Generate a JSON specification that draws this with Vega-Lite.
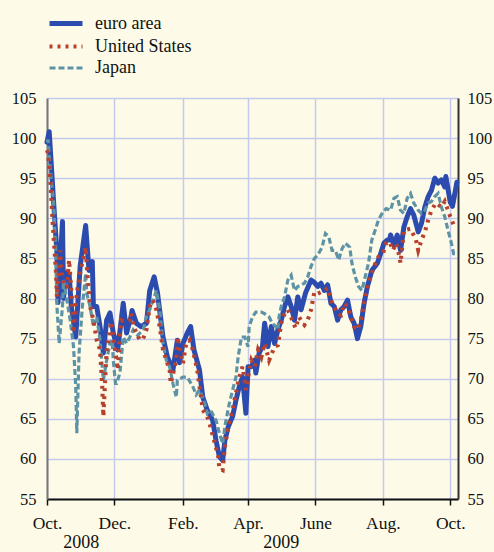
{
  "$schema": "https://vega.github.io/schema/vega-lite/v6.json",
  "width": 411,
  "height": 401,
  "autosize": {"type": "none"},
  "padding": {"left": 47, "top": 98, "right": 36, "bottom": 53},
  "background": "#FDFBE7",
  "config": {
    "view": {"stroke": null},
    "font": "Liberation Serif",
    "axis": {"labelFont": "Liberation Serif", "labelFontSize": 16, "labelColor": "#111111", "gridColor": "#C5C9EE", "gridWidth": 1.5, "gridOpacity": 1},
    "legend": {"orient": "none", "legendX": 6.5, "legendY": -87, "symbolType": "M-1.65,0H1.65", "symbolSize": 400, "labelFont": "Liberation Serif", "labelFontSize": 18, "labelColor": "#111111", "labelOffset": 16.5, "rowPadding": -2.5, "padding": 0}
  },
  "datasets": {
    "main": [
      {"d": "2008-10-01", "s": "euro area", "v": 99.5},
      {"d": "2008-10-03", "s": "euro area", "v": 100.8},
      {"d": "2008-10-07", "s": "euro area", "v": 92.0},
      {"d": "2008-10-10", "s": "euro area", "v": 85.7},
      {"d": "2008-10-11", "s": "euro area", "v": 79.5},
      {"d": "2008-10-15", "s": "euro area", "v": 89.6},
      {"d": "2008-10-16", "s": "euro area", "v": 80.0},
      {"d": "2008-10-17", "s": "euro area", "v": 82.5},
      {"d": "2008-10-19", "s": "euro area", "v": 83.2},
      {"d": "2008-10-21", "s": "euro area", "v": 83.0},
      {"d": "2008-10-23", "s": "euro area", "v": 79.0},
      {"d": "2008-10-27", "s": "euro area", "v": 75.2},
      {"d": "2008-10-31", "s": "euro area", "v": 84.0},
      {"d": "2008-11-05", "s": "euro area", "v": 89.1},
      {"d": "2008-11-08", "s": "euro area", "v": 83.5},
      {"d": "2008-11-11", "s": "euro area", "v": 84.6},
      {"d": "2008-11-12", "s": "euro area", "v": 79.0},
      {"d": "2008-11-15", "s": "euro area", "v": 79.0},
      {"d": "2008-11-18", "s": "euro area", "v": 76.5},
      {"d": "2008-11-21", "s": "euro area", "v": 73.2},
      {"d": "2008-11-24", "s": "euro area", "v": 77.3},
      {"d": "2008-11-27", "s": "euro area", "v": 78.2},
      {"d": "2008-11-30", "s": "euro area", "v": 75.7},
      {"d": "2008-12-04", "s": "euro area", "v": 73.6},
      {"d": "2008-12-09", "s": "euro area", "v": 79.4},
      {"d": "2008-12-12", "s": "euro area", "v": 75.7},
      {"d": "2008-12-16", "s": "euro area", "v": 77.7},
      {"d": "2008-12-17", "s": "euro area", "v": 78.5},
      {"d": "2008-12-21", "s": "euro area", "v": 76.9},
      {"d": "2008-12-25", "s": "euro area", "v": 76.5},
      {"d": "2008-12-30", "s": "euro area", "v": 76.9},
      {"d": "2009-01-02", "s": "euro area", "v": 81.0},
      {"d": "2009-01-06", "s": "euro area", "v": 82.7},
      {"d": "2009-01-09", "s": "euro area", "v": 80.7},
      {"d": "2009-01-14", "s": "euro area", "v": 75.2},
      {"d": "2009-01-18", "s": "euro area", "v": 72.7},
      {"d": "2009-01-23", "s": "euro area", "v": 71.1},
      {"d": "2009-01-27", "s": "euro area", "v": 74.8},
      {"d": "2009-01-29", "s": "euro area", "v": 72.0},
      {"d": "2009-02-01", "s": "euro area", "v": 74.4},
      {"d": "2009-02-05", "s": "euro area", "v": 75.7},
      {"d": "2009-02-08", "s": "euro area", "v": 76.5},
      {"d": "2009-02-11", "s": "euro area", "v": 73.6},
      {"d": "2009-02-16", "s": "euro area", "v": 71.1},
      {"d": "2009-02-19", "s": "euro area", "v": 67.7},
      {"d": "2009-02-23", "s": "euro area", "v": 66.1},
      {"d": "2009-02-28", "s": "euro area", "v": 64.8},
      {"d": "2009-03-03", "s": "euro area", "v": 62.3},
      {"d": "2009-03-06", "s": "euro area", "v": 60.3},
      {"d": "2009-03-09", "s": "euro area", "v": 59.8},
      {"d": "2009-03-11", "s": "euro area", "v": 62.3},
      {"d": "2009-03-14", "s": "euro area", "v": 64.0},
      {"d": "2009-03-18", "s": "euro area", "v": 65.3},
      {"d": "2009-03-21", "s": "euro area", "v": 67.3},
      {"d": "2009-03-24", "s": "euro area", "v": 69.0},
      {"d": "2009-03-27", "s": "euro area", "v": 70.2},
      {"d": "2009-03-30", "s": "euro area", "v": 65.7},
      {"d": "2009-04-01", "s": "euro area", "v": 71.5},
      {"d": "2009-04-04", "s": "euro area", "v": 71.5},
      {"d": "2009-04-07", "s": "euro area", "v": 72.3},
      {"d": "2009-04-08", "s": "euro area", "v": 70.7},
      {"d": "2009-04-11", "s": "euro area", "v": 73.2},
      {"d": "2009-04-14", "s": "euro area", "v": 74.0},
      {"d": "2009-04-16", "s": "euro area", "v": 76.9},
      {"d": "2009-04-19", "s": "euro area", "v": 74.0},
      {"d": "2009-04-22", "s": "euro area", "v": 76.5},
      {"d": "2009-04-25", "s": "euro area", "v": 74.4},
      {"d": "2009-04-28", "s": "euro area", "v": 76.1},
      {"d": "2009-05-01", "s": "euro area", "v": 77.3},
      {"d": "2009-05-04", "s": "euro area", "v": 79.0},
      {"d": "2009-05-07", "s": "euro area", "v": 80.2},
      {"d": "2009-05-10", "s": "euro area", "v": 79.0},
      {"d": "2009-05-13", "s": "euro area", "v": 77.3},
      {"d": "2009-05-16", "s": "euro area", "v": 80.2},
      {"d": "2009-05-19", "s": "euro area", "v": 78.6},
      {"d": "2009-05-23", "s": "euro area", "v": 80.7},
      {"d": "2009-05-28", "s": "euro area", "v": 82.3},
      {"d": "2009-05-31", "s": "euro area", "v": 82.0},
      {"d": "2009-06-03", "s": "euro area", "v": 81.5},
      {"d": "2009-06-06", "s": "euro area", "v": 81.9},
      {"d": "2009-06-09", "s": "euro area", "v": 81.0},
      {"d": "2009-06-12", "s": "euro area", "v": 81.7},
      {"d": "2009-06-15", "s": "euro area", "v": 79.4},
      {"d": "2009-06-18", "s": "euro area", "v": 79.0},
      {"d": "2009-06-21", "s": "euro area", "v": 77.3},
      {"d": "2009-06-24", "s": "euro area", "v": 78.6},
      {"d": "2009-06-27", "s": "euro area", "v": 79.0},
      {"d": "2009-06-30", "s": "euro area", "v": 79.8},
      {"d": "2009-07-03", "s": "euro area", "v": 77.7},
      {"d": "2009-07-06", "s": "euro area", "v": 76.9},
      {"d": "2009-07-09", "s": "euro area", "v": 75.0},
      {"d": "2009-07-12", "s": "euro area", "v": 76.5},
      {"d": "2009-07-15", "s": "euro area", "v": 79.4},
      {"d": "2009-07-18", "s": "euro area", "v": 81.5},
      {"d": "2009-07-22", "s": "euro area", "v": 83.5},
      {"d": "2009-07-27", "s": "euro area", "v": 84.4},
      {"d": "2009-07-30", "s": "euro area", "v": 85.6},
      {"d": "2009-08-02", "s": "euro area", "v": 86.9},
      {"d": "2009-08-05", "s": "euro area", "v": 87.3},
      {"d": "2009-08-07", "s": "euro area", "v": 87.3},
      {"d": "2009-08-08", "s": "euro area", "v": 87.9},
      {"d": "2009-08-11", "s": "euro area", "v": 86.7},
      {"d": "2009-08-14", "s": "euro area", "v": 87.9},
      {"d": "2009-08-17", "s": "euro area", "v": 86.0},
      {"d": "2009-08-20", "s": "euro area", "v": 88.9},
      {"d": "2009-08-23", "s": "euro area", "v": 90.2},
      {"d": "2009-08-26", "s": "euro area", "v": 91.2},
      {"d": "2009-08-29", "s": "euro area", "v": 90.4},
      {"d": "2009-09-02", "s": "euro area", "v": 88.3},
      {"d": "2009-09-05", "s": "euro area", "v": 89.4},
      {"d": "2009-09-08", "s": "euro area", "v": 91.4},
      {"d": "2009-09-11", "s": "euro area", "v": 92.7},
      {"d": "2009-09-14", "s": "euro area", "v": 93.5},
      {"d": "2009-09-17", "s": "euro area", "v": 95.0},
      {"d": "2009-09-20", "s": "euro area", "v": 94.4},
      {"d": "2009-09-23", "s": "euro area", "v": 94.8},
      {"d": "2009-09-26", "s": "euro area", "v": 93.9},
      {"d": "2009-09-27", "s": "euro area", "v": 95.2},
      {"d": "2009-10-01", "s": "euro area", "v": 92.0},
      {"d": "2009-10-03", "s": "euro area", "v": 91.5},
      {"d": "2009-10-05", "s": "euro area", "v": 93.0},
      {"d": "2009-10-07", "s": "euro area", "v": 94.5},

      {"d": "2008-10-01", "s": "United States", "v": 98.5},
      {"d": "2008-10-02", "s": "United States", "v": 98.1},
      {"d": "2008-10-04", "s": "United States", "v": 94.8},
      {"d": "2008-10-06", "s": "United States", "v": 89.8},
      {"d": "2008-10-09", "s": "United States", "v": 83.5},
      {"d": "2008-10-10", "s": "United States", "v": 80.2},
      {"d": "2008-10-13", "s": "United States", "v": 86.0},
      {"d": "2008-10-14", "s": "United States", "v": 83.5},
      {"d": "2008-10-16", "s": "United States", "v": 81.5},
      {"d": "2008-10-19", "s": "United States", "v": 81.5},
      {"d": "2008-10-21", "s": "United States", "v": 84.8},
      {"d": "2008-10-24", "s": "United States", "v": 79.0},
      {"d": "2008-10-25", "s": "United States", "v": 75.7},
      {"d": "2008-10-28", "s": "United States", "v": 80.7},
      {"d": "2008-10-31", "s": "United States", "v": 83.2},
      {"d": "2008-11-05", "s": "United States", "v": 86.4},
      {"d": "2008-11-06", "s": "United States", "v": 84.0},
      {"d": "2008-11-09", "s": "United States", "v": 79.0},
      {"d": "2008-11-12", "s": "United States", "v": 77.3},
      {"d": "2008-11-15", "s": "United States", "v": 74.8},
      {"d": "2008-11-18", "s": "United States", "v": 73.6},
      {"d": "2008-11-20", "s": "United States", "v": 69.0},
      {"d": "2008-11-21", "s": "United States", "v": 65.3},
      {"d": "2008-11-24", "s": "United States", "v": 73.6},
      {"d": "2008-11-27", "s": "United States", "v": 75.7},
      {"d": "2008-11-28", "s": "United States", "v": 77.1},
      {"d": "2008-11-30", "s": "United States", "v": 75.0},
      {"d": "2008-12-03", "s": "United States", "v": 72.3},
      {"d": "2008-12-04", "s": "United States", "v": 71.1},
      {"d": "2008-12-07", "s": "United States", "v": 77.3},
      {"d": "2008-12-10", "s": "United States", "v": 77.1},
      {"d": "2008-12-15", "s": "United States", "v": 77.3},
      {"d": "2008-12-16", "s": "United States", "v": 78.1},
      {"d": "2008-12-19", "s": "United States", "v": 76.3},
      {"d": "2008-12-24", "s": "United States", "v": 74.8},
      {"d": "2008-12-27", "s": "United States", "v": 75.0},
      {"d": "2008-12-30", "s": "United States", "v": 76.1},
      {"d": "2009-01-02", "s": "United States", "v": 79.0},
      {"d": "2009-01-05", "s": "United States", "v": 79.8},
      {"d": "2009-01-08", "s": "United States", "v": 78.6},
      {"d": "2009-01-11", "s": "United States", "v": 76.5},
      {"d": "2009-01-14", "s": "United States", "v": 73.6},
      {"d": "2009-01-17", "s": "United States", "v": 72.3},
      {"d": "2009-01-20", "s": "United States", "v": 71.1},
      {"d": "2009-01-21", "s": "United States", "v": 69.4},
      {"d": "2009-01-26", "s": "United States", "v": 72.3},
      {"d": "2009-01-27", "s": "United States", "v": 75.2},
      {"d": "2009-01-29", "s": "United States", "v": 74.0},
      {"d": "2009-02-01", "s": "United States", "v": 71.9},
      {"d": "2009-02-04", "s": "United States", "v": 74.4},
      {"d": "2009-02-07", "s": "United States", "v": 74.8},
      {"d": "2009-02-10", "s": "United States", "v": 73.6},
      {"d": "2009-02-14", "s": "United States", "v": 71.1},
      {"d": "2009-02-19", "s": "United States", "v": 66.1},
      {"d": "2009-02-23", "s": "United States", "v": 65.3},
      {"d": "2009-02-26", "s": "United States", "v": 64.0},
      {"d": "2009-03-02", "s": "United States", "v": 61.9},
      {"d": "2009-03-05", "s": "United States", "v": 60.3},
      {"d": "2009-03-06", "s": "United States", "v": 58.8},
      {"d": "2009-03-09", "s": "United States", "v": 58.6},
      {"d": "2009-03-11", "s": "United States", "v": 61.5},
      {"d": "2009-03-14", "s": "United States", "v": 64.0},
      {"d": "2009-03-18", "s": "United States", "v": 66.1},
      {"d": "2009-03-21", "s": "United States", "v": 68.2},
      {"d": "2009-03-24", "s": "United States", "v": 70.2},
      {"d": "2009-03-27", "s": "United States", "v": 71.5},
      {"d": "2009-03-30", "s": "United States", "v": 68.6},
      {"d": "2009-04-01", "s": "United States", "v": 70.2},
      {"d": "2009-04-04", "s": "United States", "v": 72.3},
      {"d": "2009-04-07", "s": "United States", "v": 71.5},
      {"d": "2009-04-10", "s": "United States", "v": 73.6},
      {"d": "2009-04-13", "s": "United States", "v": 72.7},
      {"d": "2009-04-16", "s": "United States", "v": 74.4},
      {"d": "2009-04-20", "s": "United States", "v": 72.3},
      {"d": "2009-04-25", "s": "United States", "v": 74.0},
      {"d": "2009-04-28", "s": "United States", "v": 74.2},
      {"d": "2009-05-01", "s": "United States", "v": 76.9},
      {"d": "2009-05-04", "s": "United States", "v": 78.1},
      {"d": "2009-05-07", "s": "United States", "v": 78.6},
      {"d": "2009-05-11", "s": "United States", "v": 77.3},
      {"d": "2009-05-14", "s": "United States", "v": 76.3},
      {"d": "2009-05-17", "s": "United States", "v": 77.7},
      {"d": "2009-05-22", "s": "United States", "v": 76.7},
      {"d": "2009-05-25", "s": "United States", "v": 77.3},
      {"d": "2009-05-28", "s": "United States", "v": 78.6},
      {"d": "2009-05-31", "s": "United States", "v": 80.8},
      {"d": "2009-06-03", "s": "United States", "v": 80.6},
      {"d": "2009-06-09", "s": "United States", "v": 81.0},
      {"d": "2009-06-12", "s": "United States", "v": 81.3},
      {"d": "2009-06-15", "s": "United States", "v": 79.8},
      {"d": "2009-06-18", "s": "United States", "v": 79.0},
      {"d": "2009-06-21", "s": "United States", "v": 78.1},
      {"d": "2009-06-24", "s": "United States", "v": 77.9},
      {"d": "2009-06-27", "s": "United States", "v": 79.4},
      {"d": "2009-06-30", "s": "United States", "v": 79.0},
      {"d": "2009-07-03", "s": "United States", "v": 77.7},
      {"d": "2009-07-06", "s": "United States", "v": 76.5},
      {"d": "2009-07-09", "s": "United States", "v": 76.1},
      {"d": "2009-07-12", "s": "United States", "v": 77.3},
      {"d": "2009-07-15", "s": "United States", "v": 79.4},
      {"d": "2009-07-19", "s": "United States", "v": 81.9},
      {"d": "2009-07-24", "s": "United States", "v": 84.0},
      {"d": "2009-07-28", "s": "United States", "v": 85.2},
      {"d": "2009-08-01", "s": "United States", "v": 85.6},
      {"d": "2009-08-04", "s": "United States", "v": 86.9},
      {"d": "2009-08-07", "s": "United States", "v": 87.1},
      {"d": "2009-08-10", "s": "United States", "v": 86.0},
      {"d": "2009-08-13", "s": "United States", "v": 86.9},
      {"d": "2009-08-16", "s": "United States", "v": 85.2},
      {"d": "2009-08-17", "s": "United States", "v": 84.4},
      {"d": "2009-08-20", "s": "United States", "v": 88.5},
      {"d": "2009-08-26", "s": "United States", "v": 88.7},
      {"d": "2009-08-31", "s": "United States", "v": 87.3},
      {"d": "2009-09-02", "s": "United States", "v": 86.0},
      {"d": "2009-09-05", "s": "United States", "v": 87.3},
      {"d": "2009-09-08", "s": "United States", "v": 88.3},
      {"d": "2009-09-11", "s": "United States", "v": 89.8},
      {"d": "2009-09-14", "s": "United States", "v": 91.0},
      {"d": "2009-09-18", "s": "United States", "v": 91.9},
      {"d": "2009-09-23", "s": "United States", "v": 91.4},
      {"d": "2009-09-26", "s": "United States", "v": 92.1},
      {"d": "2009-09-29", "s": "United States", "v": 91.0},
      {"d": "2009-10-01", "s": "United States", "v": 90.2},
      {"d": "2009-10-04", "s": "United States", "v": 89.2},
      {"d": "2009-10-07", "s": "United States", "v": 89.5},

      {"d": "2008-10-01", "s": "Japan", "v": 99.5},
      {"d": "2008-10-02", "s": "Japan", "v": 99.8},
      {"d": "2008-10-04", "s": "Japan", "v": 96.0},
      {"d": "2008-10-07", "s": "Japan", "v": 91.9},
      {"d": "2008-10-09", "s": "Japan", "v": 85.6},
      {"d": "2008-10-10", "s": "Japan", "v": 79.0},
      {"d": "2008-10-12", "s": "Japan", "v": 74.4},
      {"d": "2008-10-15", "s": "Japan", "v": 79.0},
      {"d": "2008-10-16", "s": "Japan", "v": 82.3},
      {"d": "2008-10-19", "s": "Japan", "v": 79.8},
      {"d": "2008-10-22", "s": "Japan", "v": 77.3},
      {"d": "2008-10-25", "s": "Japan", "v": 74.0},
      {"d": "2008-10-27", "s": "Japan", "v": 69.0},
      {"d": "2008-10-28", "s": "Japan", "v": 63.2},
      {"d": "2008-10-30", "s": "Japan", "v": 73.2},
      {"d": "2008-11-02", "s": "Japan", "v": 79.0},
      {"d": "2008-11-05", "s": "Japan", "v": 83.1},
      {"d": "2008-11-06", "s": "Japan", "v": 80.6},
      {"d": "2008-11-09", "s": "Japan", "v": 79.0},
      {"d": "2008-11-12", "s": "Japan", "v": 76.5},
      {"d": "2008-11-15", "s": "Japan", "v": 77.7},
      {"d": "2008-11-18", "s": "Japan", "v": 74.8},
      {"d": "2008-11-21", "s": "Japan", "v": 69.8},
      {"d": "2008-11-24", "s": "Japan", "v": 72.3},
      {"d": "2008-11-27", "s": "Japan", "v": 74.4},
      {"d": "2008-11-29", "s": "Japan", "v": 74.8},
      {"d": "2008-11-30", "s": "Japan", "v": 72.3},
      {"d": "2008-12-02", "s": "Japan", "v": 69.4},
      {"d": "2008-12-03", "s": "Japan", "v": 69.4},
      {"d": "2008-12-06", "s": "Japan", "v": 70.7},
      {"d": "2008-12-09", "s": "Japan", "v": 75.2},
      {"d": "2008-12-12", "s": "Japan", "v": 74.4},
      {"d": "2008-12-15", "s": "Japan", "v": 75.2},
      {"d": "2008-12-18", "s": "Japan", "v": 76.1},
      {"d": "2008-12-22", "s": "Japan", "v": 75.4},
      {"d": "2008-12-27", "s": "Japan", "v": 76.1},
      {"d": "2008-12-30", "s": "Japan", "v": 77.7},
      {"d": "2009-01-02", "s": "Japan", "v": 78.6},
      {"d": "2009-01-05", "s": "Japan", "v": 79.8},
      {"d": "2009-01-08", "s": "Japan", "v": 81.0},
      {"d": "2009-01-11", "s": "Japan", "v": 78.6},
      {"d": "2009-01-14", "s": "Japan", "v": 74.4},
      {"d": "2009-01-17", "s": "Japan", "v": 72.3},
      {"d": "2009-01-20", "s": "Japan", "v": 71.5},
      {"d": "2009-01-23", "s": "Japan", "v": 69.4},
      {"d": "2009-01-26", "s": "Japan", "v": 67.7},
      {"d": "2009-01-27", "s": "Japan", "v": 69.8},
      {"d": "2009-02-01", "s": "Japan", "v": 70.2},
      {"d": "2009-02-05", "s": "Japan", "v": 70.2},
      {"d": "2009-02-10", "s": "Japan", "v": 69.0},
      {"d": "2009-02-13", "s": "Japan", "v": 68.0},
      {"d": "2009-02-16", "s": "Japan", "v": 68.6},
      {"d": "2009-02-20", "s": "Japan", "v": 67.3},
      {"d": "2009-02-23", "s": "Japan", "v": 65.7},
      {"d": "2009-02-26", "s": "Japan", "v": 66.1},
      {"d": "2009-03-03", "s": "Japan", "v": 64.8},
      {"d": "2009-03-06", "s": "Japan", "v": 63.2},
      {"d": "2009-03-09", "s": "Japan", "v": 61.9},
      {"d": "2009-03-11", "s": "Japan", "v": 64.0},
      {"d": "2009-03-12", "s": "Japan", "v": 64.8},
      {"d": "2009-03-15", "s": "Japan", "v": 66.9},
      {"d": "2009-03-18", "s": "Japan", "v": 68.6},
      {"d": "2009-03-21", "s": "Japan", "v": 70.2},
      {"d": "2009-03-23", "s": "Japan", "v": 72.7},
      {"d": "2009-03-26", "s": "Japan", "v": 75.2},
      {"d": "2009-03-29", "s": "Japan", "v": 75.2},
      {"d": "2009-04-01", "s": "Japan", "v": 74.0},
      {"d": "2009-04-02", "s": "Japan", "v": 76.5},
      {"d": "2009-04-05", "s": "Japan", "v": 77.7},
      {"d": "2009-04-08", "s": "Japan", "v": 78.3},
      {"d": "2009-04-13", "s": "Japan", "v": 78.3},
      {"d": "2009-04-16", "s": "Japan", "v": 78.1},
      {"d": "2009-04-20", "s": "Japan", "v": 77.7},
      {"d": "2009-04-23", "s": "Japan", "v": 76.9},
      {"d": "2009-04-26", "s": "Japan", "v": 76.5},
      {"d": "2009-04-28", "s": "Japan", "v": 76.1},
      {"d": "2009-04-29", "s": "Japan", "v": 77.7},
      {"d": "2009-05-01", "s": "Japan", "v": 79.0},
      {"d": "2009-05-04", "s": "Japan", "v": 80.2},
      {"d": "2009-05-07", "s": "Japan", "v": 82.3},
      {"d": "2009-05-10", "s": "Japan", "v": 82.9},
      {"d": "2009-05-13", "s": "Japan", "v": 81.0},
      {"d": "2009-05-16", "s": "Japan", "v": 81.5},
      {"d": "2009-05-19", "s": "Japan", "v": 81.7},
      {"d": "2009-05-22", "s": "Japan", "v": 81.9},
      {"d": "2009-05-25", "s": "Japan", "v": 82.7},
      {"d": "2009-05-28", "s": "Japan", "v": 84.0},
      {"d": "2009-05-31", "s": "Japan", "v": 85.0},
      {"d": "2009-06-03", "s": "Japan", "v": 85.4},
      {"d": "2009-06-07", "s": "Japan", "v": 86.4},
      {"d": "2009-06-10", "s": "Japan", "v": 88.1},
      {"d": "2009-06-13", "s": "Japan", "v": 87.7},
      {"d": "2009-06-16", "s": "Japan", "v": 86.0},
      {"d": "2009-06-19", "s": "Japan", "v": 86.0},
      {"d": "2009-06-22", "s": "Japan", "v": 84.8},
      {"d": "2009-06-25", "s": "Japan", "v": 86.2},
      {"d": "2009-06-28", "s": "Japan", "v": 86.9},
      {"d": "2009-07-02", "s": "Japan", "v": 86.4},
      {"d": "2009-07-04", "s": "Japan", "v": 84.4},
      {"d": "2009-07-07", "s": "Japan", "v": 82.7},
      {"d": "2009-07-10", "s": "Japan", "v": 81.5},
      {"d": "2009-07-13", "s": "Japan", "v": 81.0},
      {"d": "2009-07-16", "s": "Japan", "v": 82.7},
      {"d": "2009-07-19", "s": "Japan", "v": 84.4},
      {"d": "2009-07-22", "s": "Japan", "v": 87.3},
      {"d": "2009-07-25", "s": "Japan", "v": 88.5},
      {"d": "2009-07-28", "s": "Japan", "v": 89.8},
      {"d": "2009-08-01", "s": "Japan", "v": 90.8},
      {"d": "2009-08-04", "s": "Japan", "v": 91.2},
      {"d": "2009-08-08", "s": "Japan", "v": 91.0},
      {"d": "2009-08-11", "s": "Japan", "v": 92.5},
      {"d": "2009-08-14", "s": "Japan", "v": 92.7},
      {"d": "2009-08-17", "s": "Japan", "v": 91.0},
      {"d": "2009-08-20", "s": "Japan", "v": 90.6},
      {"d": "2009-08-23", "s": "Japan", "v": 92.5},
      {"d": "2009-08-26", "s": "Japan", "v": 93.1},
      {"d": "2009-08-29", "s": "Japan", "v": 91.9},
      {"d": "2009-09-02", "s": "Japan", "v": 91.0},
      {"d": "2009-09-05", "s": "Japan", "v": 90.6},
      {"d": "2009-09-08", "s": "Japan", "v": 91.0},
      {"d": "2009-09-11", "s": "Japan", "v": 91.9},
      {"d": "2009-09-14", "s": "Japan", "v": 92.1},
      {"d": "2009-09-17", "s": "Japan", "v": 92.7},
      {"d": "2009-09-20", "s": "Japan", "v": 93.1},
      {"d": "2009-09-23", "s": "Japan", "v": 91.4},
      {"d": "2009-09-26", "s": "Japan", "v": 90.2},
      {"d": "2009-09-29", "s": "Japan", "v": 88.5},
      {"d": "2009-10-02", "s": "Japan", "v": 86.9},
      {"d": "2009-10-04", "s": "Japan", "v": 85.6},
      {"d": "2009-10-07", "s": "Japan", "v": 85.6}
    ],
    "years": [
      {"d": "2008-11-01", "t": "2008"},
      {"d": "2009-05-01", "t": "2009"}
    ]
  },
  "layer": [
    {
      "data": {"name": "main"},
      "transform": [{"filter": "datum.s === 'euro area'"}],
      "mark": {"type": "line", "strokeCap": "round", "strokeJoin": "round"},
      "encoding": {
        "x": {"field": "d", "type": "temporal", "title": null,
          "scale": {"type": "utc", "domain": [{"year": 2008, "month": 10, "date": 1, "utc": true}, {"year": 2009, "month": 10, "date": 8, "utc": true}]},
          "axis": {
            "values": [
              {"year": 2008, "month": 10, "date": 1, "utc": true},
              {"year": 2008, "month": 12, "date": 1, "utc": true},
              {"year": 2009, "month": 2, "date": 1, "utc": true},
              {"year": 2009, "month": 4, "date": 1, "utc": true},
              {"year": 2009, "month": 6, "date": 1, "utc": true},
              {"year": 2009, "month": 8, "date": 1, "utc": true},
              {"year": 2009, "month": 10, "date": 1, "utc": true}
            ],
            "labelExpr": "['Jan.','Feb.','Mar.','Apr.','May','June','July','Aug.','Sep.','Oct.','Nov.','Dec.'][utcmonth(datum.value)]",
            "labelFont": "Liberation Serif", "labelFontSize": 17.5, "labelColor": "#111111",
            "grid": true, "domainColor": "#111111", "domainWidth": 2, "tickColor": "#111111", "tickWidth": 1.5, "tickSize": 6,
            "labelPadding": 9, "labelFlush": false, "labelOverlap": false
          }
        },
        "y": {"field": "v", "type": "quantitative", "title": null,
          "scale": {"domain": [55, 105], "nice": false, "zero": false},
          "axis": {"values": [55, 60, 65, 70, 75, 80, 85, 90, 95, 100, 105], "labelFont": "Liberation Serif", "labelFontSize": 16.5, "labelColor": "#111111", "grid": true, "ticks": false, "domainColor": "#777777", "domainWidth": 2, "labelPadding": 11, "labelOverlap": false}
        },
        "color": {"field": "s", "type": "nominal", "title": null,
          "scale": {"domain": ["euro area", "United States", "Japan"], "range": ["#2B4BAE", "#B8402F", "#5E93A6"]}},
        "strokeDash": {"field": "s", "type": "nominal", "title": null,
          "scale": {"domain": ["euro area", "United States", "Japan"], "range": [[1, 0], [3, 5], [6, 3]]}},
        "strokeWidth": {"field": "s", "type": "nominal", "title": null,
          "scale": {"domain": ["euro area", "United States", "Japan"], "range": [5, 3.2, 4.5]}}
      }
    },
    {
      "data": {"name": "main"},
      "transform": [{"filter": "datum.s === 'Japan'"}],
      "mark": {"type": "line"},
      "encoding": {
        "x": {"field": "d", "type": "temporal", "title": null},
        "y": {"field": "v", "type": "quantitative", "title": null, "axis": null, "scale": {"domain": [55, 105], "nice": false, "zero": false}},
        "color": {"field": "s", "type": "nominal", "title": null},
        "strokeDash": {"field": "s", "type": "nominal", "title": null},
        "strokeWidth": {"field": "s", "type": "nominal", "title": null}
      }
    },
    {
      "data": {"name": "main"},
      "transform": [{"filter": "datum.s === 'United States'"}],
      "mark": {"type": "line"},
      "encoding": {
        "x": {"field": "d", "type": "temporal", "title": null},
        "y": {"field": "v", "type": "quantitative", "title": null,
          "scale": {"domain": [55, 105], "nice": false, "zero": false},
          "axis": {"orient": "right", "values": [55, 60, 65, 70, 75, 80, 85, 90, 95, 100, 105], "labelFont": "Liberation Serif", "labelFontSize": 16.5, "labelColor": "#111111", "grid": false, "ticks": false, "domainColor": "#333333", "domainWidth": 2, "labelPadding": 9, "labelOverlap": false}},
        "color": {"field": "s", "type": "nominal", "title": null},
        "strokeDash": {"field": "s", "type": "nominal", "title": null},
        "strokeWidth": {"field": "s", "type": "nominal", "title": null}
      }
    },
    {
      "data": {"name": "years"},
      "mark": {"type": "text", "font": "Liberation Serif", "fontSize": 18, "color": "#111111", "baseline": "middle", "dy": 44},
      "encoding": {
        "x": {"field": "d", "type": "temporal", "title": null},
        "y": {"datum": 55, "type": "quantitative", "axis": null, "scale": {"domain": [55, 105], "nice": false, "zero": false}},
        "text": {"field": "t"}
      }
    }
  ],
  "resolve": {"axis": {"y": "independent"}}
}
